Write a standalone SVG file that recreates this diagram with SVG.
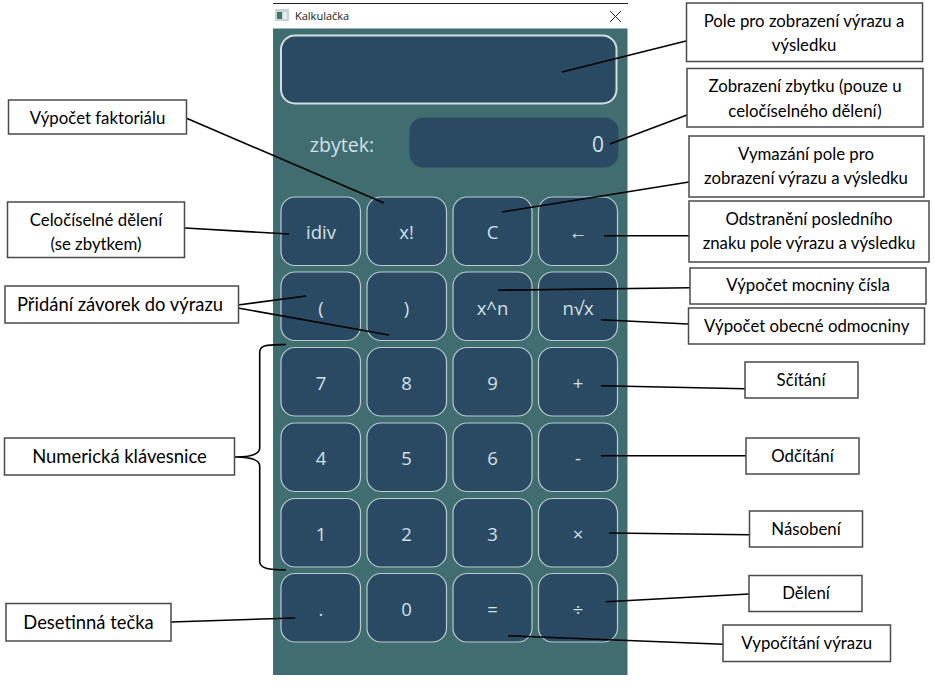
<svg xmlns="http://www.w3.org/2000/svg" width="935" height="697" viewBox="0 0 935 697">
<style>
.b{fill:#2a4a63;stroke:#bccbd0;stroke-width:1.2}
.bt{font-family:"Open Sans","Noto Sans",sans-serif;font-size:18.5px;fill:#d3e0e6;text-anchor:middle}
.l{fill:#fff;stroke:#4a4a4a;stroke-width:1.5}
.lt{font-family:Lato,"Liberation Sans",sans-serif;font-size:16.8px;fill:#000;text-anchor:middle}
.ll{font-size:18.4px}
.c{fill:none;stroke:#000;stroke-width:1.6}
</style>
<rect width="935" height="697" fill="#fff"/>
<g id="window">
<line x1="273" y1="3.500" x2="628" y2="3.500" stroke="#222" stroke-width="1"/>
<rect x="273" y="28.500" width="354.500" height="646.500" fill="#3f6d70"/>
<rect x="275" y="9" width="14" height="12" fill="#c9d3d6"/>
<rect x="277" y="12" width="5" height="7" fill="#3e7a6a"/>
<rect x="283" y="12" width="4" height="7" fill="#e4ecee"/>
<text x="295" y="20" font-family="'Open Sans','Noto Sans',sans-serif" font-size="11" fill="#222">Kalkulačka</text>
<path d="M610,11 L621,22 M621,11 L610,22" fill="none" stroke="#222" stroke-width="1"/>
</g>
<g id="display"><rect x="281" y="35.500" width="335.500" height="68" rx="14" fill="#2a4a63" stroke="#d3dde0" stroke-width="2"/></g>
<g id="remainder">
<text x="342" y="152" font-family="'Open Sans','Noto Sans',sans-serif" font-size="19.600" fill="#d3e0e6" text-anchor="middle">zbytek:</text>
<rect x="409.500" y="117.500" width="209" height="50" rx="14" fill="#2a4a63"/>
<text x="604" y="152" font-family="'Open Sans','Noto Sans',sans-serif" font-size="21" fill="#d3e0e6" text-anchor="end">0</text>
</g>
<g id="btn-idiv"><rect class="b" x="281" y="197" width="79.500" height="68.500" rx="14"/><text class="bt" x="321" y="239">idiv</text></g>
<g id="btn-fact"><rect class="b" x="367" y="197" width="79.500" height="68.500" rx="14"/><text class="bt" x="406.500" y="239">x!</text></g>
<g id="btn-c"><rect class="b" x="453" y="197" width="79" height="68.500" rx="14"/><text class="bt" x="492.500" y="239">C</text></g>
<g id="btn-back"><rect class="b" x="538.500" y="197" width="79" height="68.500" rx="14"/><text class="bt" x="578" y="239">←</text></g>
<g id="btn-lpar"><rect class="b" x="281" y="272" width="79.500" height="68.500" rx="14"/><text class="bt" x="321" y="314.500">(</text></g>
<g id="btn-rpar"><rect class="b" x="367" y="272" width="79.500" height="68.500" rx="14"/><text class="bt" x="406.500" y="314.500">)</text></g>
<g id="btn-pow"><rect class="b" x="453" y="272" width="79" height="68.500" rx="14"/><text class="bt" x="492.500" y="314.500">x^n</text></g>
<g id="btn-root"><rect class="b" x="538.500" y="272" width="79" height="68.500" rx="14"/><text class="bt" x="578" y="314.500">n√x</text></g>
<g id="btn-7"><rect class="b" x="281" y="347.500" width="79.500" height="68.500" rx="14"/><text class="bt" x="321" y="389.500">7</text></g>
<g id="btn-8"><rect class="b" x="367" y="347.500" width="79.500" height="68.500" rx="14"/><text class="bt" x="406.500" y="389.500">8</text></g>
<g id="btn-9"><rect class="b" x="453" y="347.500" width="79" height="68.500" rx="14"/><text class="bt" x="492.500" y="389.500">9</text></g>
<g id="btn-plus"><rect class="b" x="538.500" y="347.500" width="79" height="68.500" rx="14"/><text class="bt" x="578" y="389.500">+</text></g>
<g id="btn-4"><rect class="b" x="281" y="423" width="79.500" height="68.500" rx="14"/><text class="bt" x="321" y="465">4</text></g>
<g id="btn-5"><rect class="b" x="367" y="423" width="79.500" height="68.500" rx="14"/><text class="bt" x="406.500" y="465">5</text></g>
<g id="btn-6"><rect class="b" x="453" y="423" width="79" height="68.500" rx="14"/><text class="bt" x="492.500" y="465">6</text></g>
<g id="btn-minus"><rect class="b" x="538.500" y="423" width="79" height="68.500" rx="14"/><text class="bt" x="578" y="465">-</text></g>
<g id="btn-1"><rect class="b" x="281" y="498.500" width="79.500" height="68.500" rx="14"/><text class="bt" x="321" y="540.500">1</text></g>
<g id="btn-2"><rect class="b" x="367" y="498.500" width="79.500" height="68.500" rx="14"/><text class="bt" x="406.500" y="540.500">2</text></g>
<g id="btn-3"><rect class="b" x="453" y="498.500" width="79" height="68.500" rx="14"/><text class="bt" x="492.500" y="540.500">3</text></g>
<g id="btn-times"><rect class="b" x="538.500" y="498.500" width="79" height="68.500" rx="14"/><text class="bt" x="578" y="540.500">×</text></g>
<g id="btn-dot"><rect class="b" x="281" y="573.500" width="79.500" height="68.500" rx="14"/><text class="bt" x="321" y="615.500">.</text></g>
<g id="btn-0"><rect class="b" x="367" y="573.500" width="79.500" height="68.500" rx="14"/><text class="bt" x="406.500" y="615.500">0</text></g>
<g id="btn-eq"><rect class="b" x="453" y="573.500" width="79" height="68.500" rx="14"/><text class="bt" x="492.500" y="615.500">=</text></g>
<g id="btn-div"><rect class="b" x="538.500" y="573.500" width="79" height="68.500" rx="14"/><text class="bt" x="578" y="615.500">÷</text></g>
<g id="connectors">
<path class="c" d="M562,72 L686,41"/>
<path class="c" d="M610,144 L687,115"/>
<path class="c" d="M502,212 L689,182"/>
<path class="c" d="M186,118 L384,203"/>
<path class="c" d="M185,228 L289,234"/>
<path class="c" d="M238,305 L306,296"/>
<path class="c" d="M238,308 L389,335"/>
<path class="c" d="M286,344.500 C270,345 260,344 259.700,352 L259.700,448 C259.700,455 250,457 234.700,457 C250,457 259.700,459 259.700,466 L259.700,562 C260,569 270,569.500 286,570"/>
<path class="c" d="M171,622 L295,618"/>
<path class="c" d="M604,235.700 L689,235.700"/>
<path class="c" d="M498,290.300 L690,287.700"/>
<path class="c" d="M601,319.700 L688,324"/>
<path class="c" d="M601,385.700 L745,388.700"/>
<path class="c" d="M601,455.700 L746,455.700"/>
<path class="c" d="M609,533 L749,534.700"/>
<path class="c" d="M606,601.700 L749,594"/>
<path class="c" d="M508,635.700 L723,644.300"/>
</g>
<g id="label-display"><rect class="l" x="686.500" y="3" width="236" height="58.500"/><text class="lt" x="804" y="26.700">Pole pro zobrazení výrazu a</text><text class="lt" x="804" y="51">výsledku</text></g>
<g id="label-remainder"><rect class="l" x="687" y="68.500" width="236" height="58.500"/><text class="lt" x="805" y="92.300">Zobrazení zbytku (pouze u</text><text class="lt" x="805" y="116.700">celočíselného dělení)</text></g>
<g id="label-clear"><rect class="l" x="689" y="136" width="235" height="61"/><text class="lt" x="806" y="160">Vymazání pole pro</text><text class="lt" x="806" y="184">zobrazení výrazu a výsledku</text></g>
<g id="label-back"><rect class="l" x="689" y="201" width="240" height="61"/><text class="lt" x="809" y="225">Odstranění posledního</text><text class="lt" x="809" y="249">znaku pole výrazu a výsledku</text></g>
<g id="label-pow"><rect class="l" x="690" y="268" width="236" height="36"/><text class="lt" x="808" y="291">Výpočet mocniny čísla</text></g>
<g id="label-root"><rect class="l" x="688.500" y="308" width="236" height="36"/><text class="lt" x="806.700" y="331.700">Výpočet obecné odmocniny</text></g>
<g id="label-plus"><rect class="l" x="745" y="362" width="113" height="36"/><text class="lt" x="801" y="385.700">Sčítání</text></g>
<g id="label-minus"><rect class="l" x="746" y="438" width="113" height="36"/><text class="lt" x="802.500" y="461.700">Odčítání</text></g>
<g id="label-times"><rect class="l" x="749.500" y="511" width="113" height="36"/><text class="lt" x="806" y="535">Násobení</text></g>
<g id="label-div"><rect class="l" x="749" y="575.500" width="113" height="36"/><text class="lt" x="806" y="599.300">Dělení</text></g>
<g id="label-eq"><rect class="l" x="723" y="625" width="167.500" height="36.500"/><text class="lt" x="806.700" y="649">Vypočítání výrazu</text></g>
<g id="label-fact"><rect class="l" x="8.500" y="100" width="178" height="34"/><text class="lt" x="97.500" y="124">Výpočet faktoriálu</text></g>
<g id="label-idiv"><rect class="l" x="7.500" y="202" width="177" height="55.500"/><text class="lt" x="96" y="225.700">Celočíselné dělení</text><text class="lt" x="96" y="250">(se zbytkem)</text></g>
<g id="label-par"><rect class="l" x="5" y="286" width="233.500" height="37"/><text class="lt ll" x="120" y="311">Přidání závorek do výrazu</text></g>
<g id="label-num"><rect class="l" x="4.500" y="438" width="230" height="37"/><text class="lt ll" x="119.500" y="463.300">Numerická klávesnice</text></g>
<g id="label-dot"><rect class="l" x="6" y="603.500" width="165" height="37.500"/><text class="lt ll" x="88.500" y="629">Desetinná tečka</text></g>
</svg>
